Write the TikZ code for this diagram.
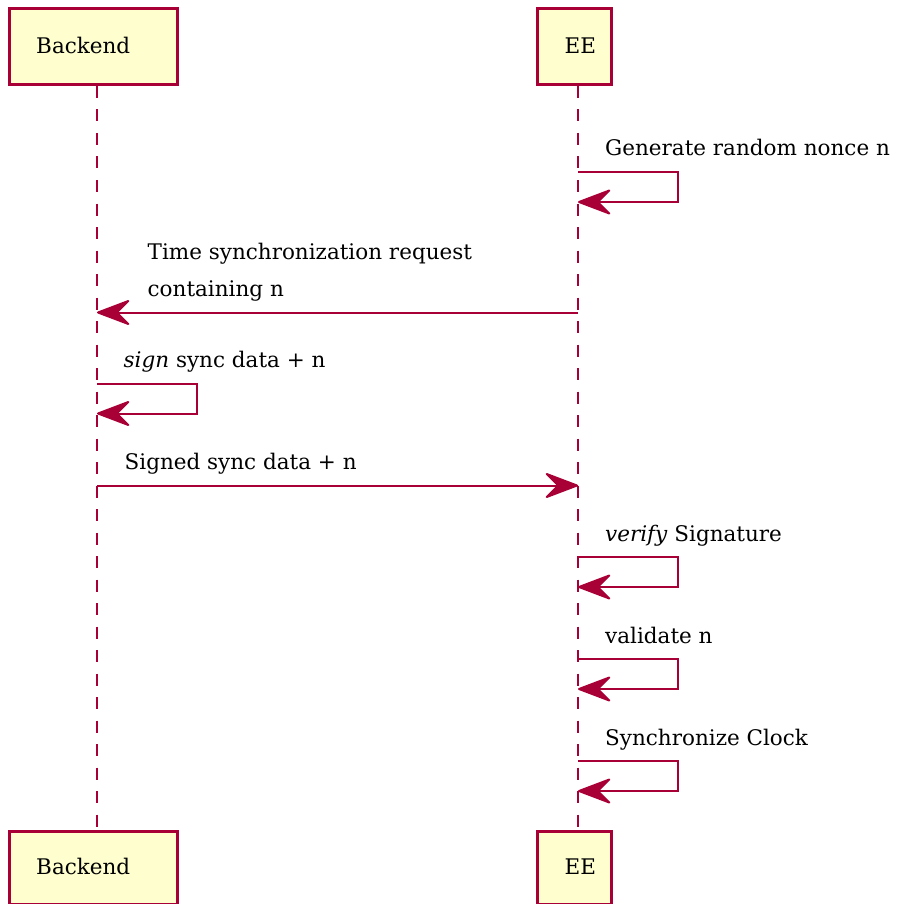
\documentclass[tikz,border=0pt]{standalone}
\usepackage{fontspec}
\setmainfont{DejaVu Serif}
\usetikzlibrary{arrows.meta}
\definecolor{umlborder}{HTML}{A80036}
\definecolor{umlfill}{HTML}{FEFECE}
\tikzset{
  participant/.style={draw=umlborder, fill=umlfill, line width=3pt, inner sep=0pt},
  plabel/.style={anchor=base west, inner sep=0pt},
  lifeline/.style={draw=umlborder, line width=2pt, dash pattern=on 12pt off 11.5pt},
  msg/.style={draw=umlborder, line width=2pt,
    -{Stealth[length=37pt, width=28pt, inset=14pt, round]}},
  msglabel/.style={anchor=base west, inner sep=0pt, align=left},
}
\begin{document}
\begin{tikzpicture}[x=1pt, y=-1pt, font=\fontsize{21.5}{37}\selectfont]
\useasboundingbox (0,0) rectangle (899,904);

% participants, top and bottom
\node[participant, minimum width=167.5pt, minimum height=75.5pt] (bTop) at (93.25,46.75) {};
\node[participant, minimum width=74.5pt, minimum height=75.5pt] (eTop) at (574.5,46.75) {};
\node[participant, minimum width=167.5pt, minimum height=73pt] (bBot) at (93.25,867.5) {};
\node[participant, minimum width=74.5pt, minimum height=73pt] (eBot) at (574.5,867.5) {};
\node[plabel] (bTopText) at (36,53.5) {Backend};
\node[plabel] (eTopText) at (564.5,53.5) {EE};
\node[plabel] (bBotText) at (36,874) {Backend};
\node[plabel] (eBotText) at (564.5,874) {EE};

% lifelines
\coordinate (bL0) at (97,86);
\coordinate (bL1) at (97,829);
\coordinate (eL0) at (578,86);
\coordinate (eL1) at (578,829);
\draw[lifeline] (bL0) -- (bL1);
\draw[lifeline] (eL0) -- (eL1);

% EE: generate nonce
\coordinate (m1a) at (578,172);
\coordinate (m1b) at (578,202);
\draw[msg] (m1a) -- (678,172) |- (m1b);
\node[msglabel] (t1) at (605,156) {Generate random nonce n};

% EE -> Backend: request
\coordinate (m2a) at (578,312.5);
\coordinate (m2b) at (97,312.5);
\draw[msg] (m2a) -- (m2b);
\node[msglabel] (t2) at (147.5,296) {Time synchronization request\\containing n};

% Backend: sign
\coordinate (m3a) at (97,384);
\coordinate (m3b) at (97,413.5);
\draw[msg] (m3a) -- (197,384) |- (m3b);
\node[msglabel] (t3) at (123.5,367) {\textit{sign} sync data + n};

% Backend -> EE: signed data
\coordinate (m4a) at (97,485.5);
\coordinate (m4b) at (578,485.5);
\draw[msg] (m4a) -- (m4b);
\node[msglabel] (t4) at (124.5,469.5) {Signed sync data + n};

% EE: verify
\coordinate (m5a) at (578,557);
\coordinate (m5b) at (578,587);
\draw[msg] (m5a) -- (678,557) |- (m5b);
\node[msglabel] (t5) at (605,541) {\textit{verify} Signature};

% EE: validate
\coordinate (m6a) at (578,659);
\coordinate (m6b) at (578,689);
\draw[msg] (m6a) -- (678,659) |- (m6b);
\node[msglabel] (t6) at (605,643) {validate n};

% EE: synchronize
\coordinate (m7a) at (578,761);
\coordinate (m7b) at (578,791);
\draw[msg] (m7a) -- (678,761) |- (m7b);
\node[msglabel] (t7) at (605,745) {Synchronize Clock};
\end{tikzpicture}
\end{document}
